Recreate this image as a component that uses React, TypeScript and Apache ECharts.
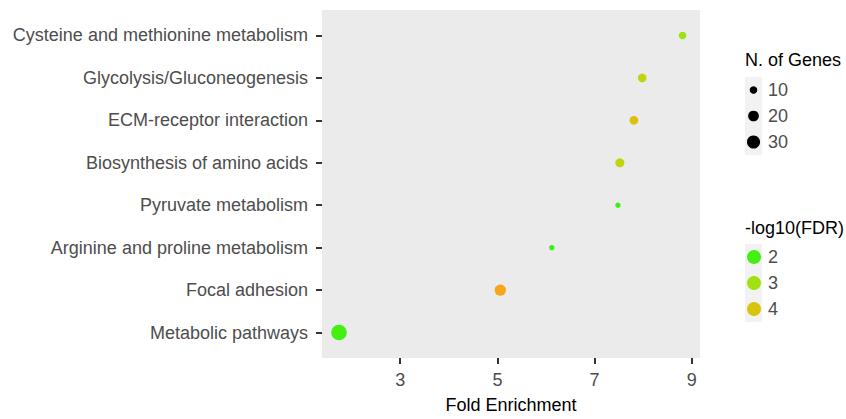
import React, { useEffect, useRef } from "react";
import * as echarts from "echarts";

const categories = [
  "Metabolic pathways",
  "Focal adhesion",
  "Arginine and proline metabolism",
  "Pyruvate metabolism",
  "Biosynthesis of amino acids",
  "ECM-receptor interaction",
  "Glycolysis/Gluconeogenesis",
  "Cysteine and methionine metabolism",
];
const foldEnrichment = [1.74, 5.06, 6.12, 7.48, 7.52, 7.81, 7.98, 8.81];
const geneCounts = [42, 22, 5, 5, 14, 13, 13, 10];
const negLog10FDR = [2.0, 5.1, 1.9, 1.9, 3.6, 4.1, 3.6, 2.9];

const xTicks = [3, 5, 7, 9];
const sizeBreaks = [10, 20, 30];
const colorBreaks = [2, 3, 4];

const colorMin = 1.8;
const colorMax = 5.2;
const palette = ["#2ef212", "#8ee614", "#bcd80c", "#e8b80c", "#f8a41a"];

const FONT = "'Liberation Sans', Arial, Helvetica, sans-serif";
const sizeFn = (n: number) => 2.4 * Math.sqrt(n);

export default function App() {
  const ref = useRef<HTMLDivElement>(null);
  useEffect(() => {
    if (!ref.current) return;
    const chart = echarts.init(ref.current, null, { renderer: "svg" });
    const data = categories.map((_, i) => [foldEnrichment[i], i, geneCounts[i], negLog10FDR[i]]);
    const graphics: any[] = [];
    // size legend
    const keyX = 745;
    const keyW = 17;
    const keyH = 26;
    const sizeTop = 77;
    graphics.push({ type: "text", left: keyX, top: 51, style: { text: "N. of Genes", font: `18px ${FONT}`, fill: "#000" } });
    graphics.push({ type: "rect", shape: { x: keyX, y: sizeTop, width: keyW, height: keyH * 3 }, style: { fill: "#f2f2f2" } });
    sizeBreaks.forEach((b, i) => {
      const cy = sizeTop + keyH * i + keyH / 2;
      graphics.push({ type: "circle", shape: { cx: keyX + keyW / 2, cy, r: sizeFn(b) / 2 }, style: { fill: "#000" } });
      graphics.push({ type: "text", x: 768, y: cy, style: { text: String(b), font: `18px ${FONT}`, fill: "#4d4d4d", verticalAlign: "middle" } });
    });
    // color legend
    const colTop = 244;
    graphics.push({ type: "text", left: keyX, top: 219, style: { text: "-log10(FDR)", font: `18px ${FONT}`, fill: "#000" } });
    graphics.push({ type: "rect", shape: { x: keyX, y: colTop, width: keyW, height: keyH * 3 }, style: { fill: "#f2f2f2" } });
    colorBreaks.forEach((b, i) => {
      const cy = colTop + keyH * i + keyH / 2;
      const c = echarts.color.lerp((b - colorMin) / (colorMax - colorMin), palette);
      graphics.push({ type: "circle", shape: { cx: keyX + keyW / 2 + 0.5, cy, r: 7 }, style: { fill: c } });
      graphics.push({ type: "text", x: 768, y: cy, style: { text: String(b), font: `18px ${FONT}`, fill: "#4d4d4d", verticalAlign: "middle" } });
    });

    chart.setOption({
      animation: false,
      grid: { left: 322, right: 146, top: 10, bottom: 51, show: true, backgroundColor: "#ebebeb", borderWidth: 0 },
      xAxis: {
        type: "value",
        min: 1.39,
        max: 9.17,
        name: "Fold Enrichment",
        nameLocation: "middle",
        nameGap: 38,
        nameTextStyle: { fontSize: 18, fontFamily: FONT, color: "#000" },
        axisLine: { show: false, onZero: false },
        splitLine: { show: false },
        axisTick: { show: true, length: 6, lineStyle: { color: "#333", width: 2 }, customValues: xTicks },
        axisLabel: { customValues: xTicks, fontSize: 18, fontFamily: FONT, color: "#4d4d4d", margin: 13, lineHeight: 18 },
      },
      yAxis: {
        type: "value",
        min: -0.6,
        max: 7.6,
        axisLine: { show: false, onZero: false },
        splitLine: { show: false },
        axisTick: { show: true, length: 6, lineStyle: { color: "#333", width: 2 }, customValues: categories.map((_, i) => i) },
        axisLabel: {
          customValues: categories.map((_, i) => i),
          formatter: (v: number) => categories[Math.round(v)],
          fontSize: 18,
          fontFamily: FONT,
          color: "#4d4d4d",
          margin: 14,
        },
      },
      visualMap: {
        show: false,
        type: "continuous",
        dimension: 3,
        seriesIndex: 0,
        min: colorMin,
        max: colorMax,
        inRange: { color: palette },
      },
      series: [
        {
          type: "scatter",
          data,
          symbolSize: (v: number[]) => sizeFn(v[2]),
          itemStyle: { opacity: 1 },
        },
      ],
      graphic: graphics,
    });
    return () => chart.dispose();
  }, []);
  return <div ref={ref} style={{ position: "absolute", left: 0, top: 0, width: 846, height: 419 }} />;
}
